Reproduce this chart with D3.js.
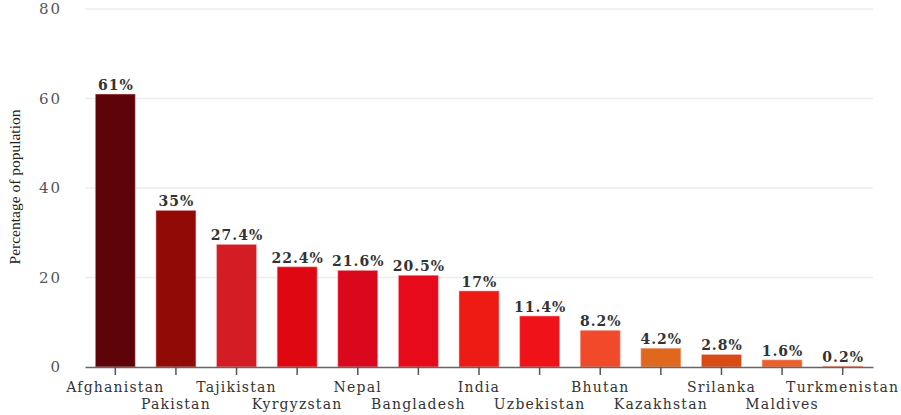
<!DOCTYPE html>
<html>
<head>
<meta charset="utf-8">
<script src="https://cdn.jsdelivr.net/npm/d3@7"></script>
<style>
  body { margin: 0; background: #fff; }
  svg text { font-family: "DejaVu Serif", serif; }
</style>
</head>
<body>
<div class="chart"></div>
<script>
var countries = ["Afghanistan", "Pakistan", "Tajikistan", "Kyrgyzstan", "Nepal", "Bangladesh",
                 "India", "Uzbekistan", "Bhutan", "Kazakhstan", "Srilanka", "Maldives", "Turkmenistan"];
var values = [61, 35, 27.4, 22.4, 21.6, 20.5, 17, 11.4, 8.2, 4.2, 2.8, 1.6, 0.2];
var colors = ["#5e0408", "#920a06", "#d41c24", "#e00810", "#da081c", "#e60a1a", "#ee1a14",
              "#ef1219", "#f04a2a", "#e0681e", "#d94a14", "#e8602a", "#e86028"];
var yTicks = [0, 20, 40, 60, 80];

var width = 901, height = 415;
var svg = d3.select(".chart").append("svg")
    .attr("width", width)
    .attr("height", height);

var x = d3.scaleBand()
    .domain(countries)
    .range([85, 873])
    .paddingInner(0.34)
    .paddingOuter(0.17);

var y = d3.scaleLinear()
    .domain([0, 80])
    .range([367, 9]);

// gridlines
svg.selectAll(".grid")
    .data(yTicks.filter(function(d) { return d > 0; }))
    .enter().append("line")
    .attr("class", "grid")
    .attr("x1", 85).attr("x2", 873)
    .attr("y1", function(d) { return y(d); })
    .attr("y2", function(d) { return y(d); })
    .attr("stroke", "#ececec")
    .attr("stroke-width", 1.5);

// y tick labels
svg.selectAll(".ylab")
    .data(yTicks)
    .enter().append("text")
    .attr("class", "ylab")
    .attr("x", 62)
    .attr("y", function(d) { return y(d) + 5; })
    .attr("text-anchor", "end")
    .attr("fill", "#555")
    .attr("font-size", 15)
    .style("letter-spacing", "2px")
    .text(function(d) { return d; });

// y title
svg.append("text")
    .attr("transform", "translate(20,187) rotate(-90)")
    .attr("text-anchor", "middle")
    .attr("font-size", 15.5)
    .attr("fill", "#222")
    .style("font-family", "'Liberation Serif', serif")
    .text("Percentage of population");

// bars
svg.selectAll(".bar")
    .data(values)
    .enter().append("rect")
    .attr("class", "bar")
    .attr("x", function(d, i) { return x(countries[i]); })
    .attr("y", function(d) { return y(d); })
    .attr("width", x.bandwidth())
    .attr("height", function(d) { return y(0) - y(d); })
    .attr("fill", function(d, i) { return colors[i]; })
    .attr("stroke", "rgba(255,200,200,0.5)")
    .attr("stroke-width", 1);

// value labels
svg.selectAll(".val")
    .data(values)
    .enter().append("text")
    .attr("class", "val")
    .attr("x", function(d, i) { return x(countries[i]) + x.bandwidth() / 2 + 0.5; })
    .attr("y", function(d) { return y(d) - 4; })
    .attr("text-anchor", "middle")
    .attr("font-size", 14)
    .attr("font-weight", "bold")
    .attr("fill", "#333")
    .style("letter-spacing", "1px")
    .text(function(d) { return d + "%"; });

// x axis
var xAxis = svg.append("g")
    .attr("transform", "translate(0," + y(0) + ")")
    .call(d3.axisBottom(x).tickSize(8).tickSizeOuter(0));
xAxis.select(".domain").attr("stroke", "#666").attr("stroke-width", 1.5);
xAxis.selectAll(".tick line").attr("stroke", "#555").attr("stroke-width", 1.5);
xAxis.selectAll(".tick text")
    .attr("font-size", 14)
    .attr("fill", "#333")
    .style("font-family", "'DejaVu Serif', serif")
    .style("letter-spacing", "1.2px")
    .attr("y", function(d, i) { return i % 2 == 0 ? 15 : 32; });
</script>
</body>
</html>
